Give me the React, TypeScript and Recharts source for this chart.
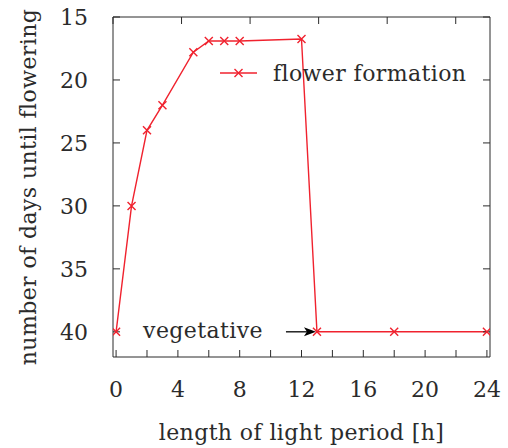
import { LineChart, Line, XAxis, YAxis, Label, Legend, ReferenceDot } from 'recharts';

// light period (h) vs days until flowering
const hours = [0, 1, 2, 3, 5, 6, 7, 8, 12, 13, 18, 24];
const days = [40, 30, 24, 22, 17.8, 16.9, 16.9, 16.9, 16.75, 40, 40, 40];
const xTicks = [0, 2, 4, 6, 8, 10, 12, 14, 16, 18, 20, 22, 24];
const yTicks = [15, 20, 25, 30, 35, 40];
const seriesName = 'flower formation';
const noteText = 'vegetative';

const data = hours.map((h, i) => ({ h, d: days[i] }));

const RED = '#f0222e';
const INK = '#2b2b2b';
const FONT = 'DejaVu Serif';
const tickStyle = { fontFamily: FONT, fontSize: 22, fill: INK };
const textStyle = { fontFamily: FONT, fontSize: 22, fill: INK, letterSpacing: 0.4 };

const Cross = (props: any) => {
  const { cx, cy, index } = props;
  const s = 4;
  return (
    <path
      key={'c' + index}
      d={`M${cx - s},${cy - s}L${cx + s},${cy + s}M${cx - s},${cy + s}L${cx + s},${cy - s}`}
      stroke={RED}
      strokeWidth={1.4}
      fill="none"
    />
  );
};

const LegendBox = () => (
  <svg width={280} height={32}>
    <line x1={5} y1={15} x2={42} y2={15} stroke={RED} strokeWidth={1.4} />
    <Cross cx={23.5} cy={15} index={99} />
    <text x={58} y={23} style={textStyle}>
      {seriesName}
    </text>
  </svg>
);

const Note = (props: any) => {
  const { cx, cy } = props;
  return (
    <g>
      <text x={cx - 54} y={cy + 6} textAnchor="end" style={textStyle}>
        {noteText}
      </text>
      <line x1={cx - 31} y1={cy} x2={cx - 10} y2={cy} stroke="#000" strokeWidth={1.3} />
      <path d={`M${cx - 1},${cy} L${cx - 13},${cy - 4.5} L${cx - 10},${cy} L${cx - 13},${cy + 4.5} Z`} fill="#000" />
    </g>
  );
};

const YTitle = () => (
  <text x={36} y={187} transform="rotate(-90, 36, 187)" textAnchor="middle" style={textStyle}>
    number of days until flowering
  </text>
);

const noLabel = () => '';

export default function App() {
  const fmtX = (v: number) => (v % 4 === 0 ? String(v) : '');
  return (
    <div style={{ position: 'absolute', left: 0, top: 0, background: '#fff' }}>
      <LineChart width={508} height={448} data={data} margin={{ top: 16, right: 17, bottom: 0, left: 0 }}>
        <XAxis
          dataKey="h"
          type="number"
          domain={[-0.2, 24.2]}
          allowDataOverflow
          ticks={xTicks}
          interval={0}
          tickFormatter={fmtX}
          tickSize={-7}
          tickMargin={31}
          height={91}
          stroke={INK}
          tick={tickStyle}
        >
          <Label value="length of light period [h]" position="insideBottom" offset={8} style={textStyle} />
        </XAxis>
        <XAxis
          xAxisId="top"
          orientation="top"
          type="number"
          domain={[-0.2, 24.2]}
          allowDataOverflow
          ticks={xTicks}
          interval={0}
          tickFormatter={noLabel}
          tickSize={-7}
          height={1}
          stroke={INK}
        />
        <YAxis
          type="number"
          domain={[15, 42]}
          reversed
          allowDataOverflow
          ticks={yTicks}
          interval={0}
          tickSize={-7}
          tickMargin={32}
          width={113}
          stroke={INK}
          tick={tickStyle}
        >
          <Label content={YTitle} />
        </YAxis>
        <YAxis
          yAxisId="right"
          orientation="right"
          type="number"
          domain={[15, 42]}
          reversed
          allowDataOverflow
          ticks={yTicks}
          interval={0}
          tickFormatter={noLabel}
          tickSize={-7}
          width={1}
          stroke={INK}
        />
        <Legend
          layout="horizontal"
          verticalAlign="middle"
          align="center"
          content={LegendBox}
          wrapperStyle={{ position: 'absolute', left: 215, top: 58, width: 280, height: 32 }}
        />
        <Line
          type="linear"
          dataKey="d"
          name={seriesName}
          stroke={RED}
          strokeWidth={1.4}
          dot={Cross}
          activeDot={false}
          isAnimationActive={false}
        />
        <ReferenceDot x={13} y={40} r={0} shape={Note} />
      </LineChart>
    </div>
  );
}
